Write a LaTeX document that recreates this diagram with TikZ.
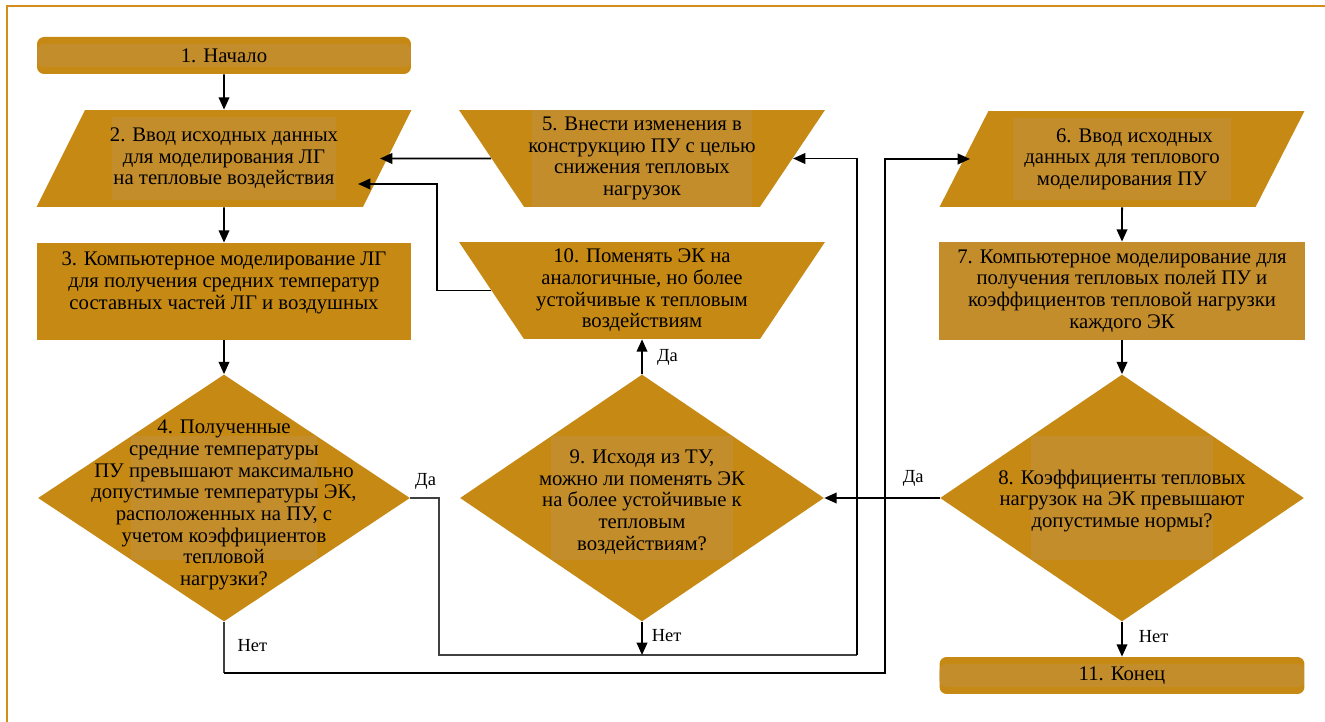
\documentclass[tikz,border=0pt]{standalone}
\usepackage{fontspec}
\setmainfont{Liberation Serif}
\usetikzlibrary{shapes.geometric,arrows.meta,calc,positioning}

\definecolor{gold}{RGB}{198,137,20}
\definecolor{goldhl}{RGB}{195,141,44}
\definecolor{framecol}{RGB}{212,142,26}

\tikzset{
  >={Triangle[length=7pt,width=6pt]},
  blk/.style={fill=gold, inner sep=1pt, align=center, font=\fontsize{11.8}{12.3}\selectfont},
  hl/.style 2 args={path picture={\fill[goldhl]
      ([xshift=#1,yshift=-#2]path picture bounding box.north west) rectangle
      ([xshift=-#1,yshift=#2]path picture bounding box.south east);}},
  term/.style={blk, rectangle, rounded corners=4pt, minimum width=7.48cm, minimum height=0.74cm},
  proc/.style={blk, rectangle, minimum width=7.48cm, minimum height=1.94cm},
  io/.style={blk, trapezium, trapezium left angle=53, trapezium right angle=127,
      trapezium stretches body, minimum width=7.5cm, minimum height=1.94cm},
  act/.style={blk, trapezium, trapezium angle=53, shape border rotate=180,
      trapezium stretches body, minimum width=7.32cm, minimum height=1.94cm},
  dec/.style={fill=gold, diamond, inner sep=0pt, minimum height=4.94cm,
      path picture={\fill[goldhl]
        ($(path picture bounding box.center)!0.5!(path picture bounding box.north west)$) rectangle
        ($(path picture bounding box.center)!0.5!(path picture bounding box.south east)$);}},
  txt/.style={align=center, inner sep=0pt, font=\fontsize{11.8}{12.3}\selectfont},
  yn/.style={inner sep=1pt, text=black, font=\fontsize{10.5}{12}\selectfont},
  ln/.style={line width=1.1pt},
  lnt/.style={line width=0.6pt, black!75},
}

\begin{document}
\begin{tikzpicture}[x=0.02cm, y=-0.02cm]
    \useasboundingbox (0,0) rectangle (1325,722);

    % Frame
    \draw[framecol, line width=1.2pt] (7,722) -- (7,6) -- (1325,6);

    % Left column
    \node[term, hl={0pt}{0.14cm}] (n1) at (224,55.5) {1. Начало};
    \node[io, hl={1.5cm}{0.14cm}] (n2) at (224,158.5)
        {2. Ввод исходных данных\\для моделирования ЛГ\\на тепловые воздействия};
    \node[proc] (n3) at (224,291.5)
        {3. Компьютерное моделирование ЛГ\\для получения средних температур\\составных частей ЛГ и воздушных\\\mbox{}};
    \node[dec, minimum width=7.44cm] (d4) at (224,498) {};
    \node[txt] (t4) at ($(d4)+(0,7)$)
        {4. Полученные\\средние температуры\\ПУ превышают максимально\\допустимые температуры ЭК,\\расположенных на ПУ, с\\учетом коэффициентов\\тепловой\\нагрузки?};

    % Middle column
    \node[act, hl={1.46cm}{0pt}] (n5) at (642,158.5)
        {5. Внести изменения в\\конструкцию ПУ с целью\\снижения тепловых\\нагрузок};
    \node[act] (n10) at (642,290.5)
        {10. Поменять ЭК на\\аналогичные, но более\\устойчивые к тепловым\\воздействиям};
    \node[dec, minimum width=7.28cm] (d9) at (642,498) {};
    \node[txt] (t9) at ($(d9)+(0,4)$)
        {9. Исходя из ТУ,\\можно ли поменять ЭК\\на более устойчивые к\\тепловым\\воздействиям?};

    % Right column
    \node[io, minimum width=7.3cm, minimum height=1.92cm, hl={1.46cm}{0.14cm}] (n6) at (1122,159)
        {\hspace{1.2em}6. Ввод исходных\\данных для теплового\\моделирования ПУ};
    \node[proc, fill=goldhl, minimum width=7.32cm, minimum height=1.96cm] (n7) at (1122,291)
        {7. Компьютерное моделирование для\\получения тепловых полей ПУ и\\коэффициентов тепловой нагрузки\\каждого ЭК};
    \node[dec, minimum width=7.28cm] (d8) at (1122,498) {};
    \node[txt] (t8) at ($(d8)+(0,3)$)
        {8. Коэффициенты тепловых\\нагрузок на ЭК превышают\\допустимые нормы?};
    \node[term, minimum width=7.3cm, hl={0pt}{0.14cm}] (n11) at (1122,675.5) {11. Конец};

    % Junctions and entry points on slanted sides
    \coordinate (j1) at (439,655);
    \coordinate (j2) at (857,655);
    \coordinate (j3) at (224,673);
    \coordinate (j4) at (885,673);
    \coordinate (e2) at (380,158.5);
    \coordinate (e2b) at (358,184);
    \coordinate (e5) at (793,158.5);
    \coordinate (e6) at (970,159);

    % Straight flow
    \draw[ln,->] (n1) -- (n2);
    \draw[ln,->] (n2) -- (n3);
    \draw[ln,->] (n3) -- (d4);
    \draw[ln,->] (n6) -- (n7);
    \draw[ln,->] (n7) -- (d8);
    \draw[ln,->] (d8) -- (n11) node[yn, pos=0.43, right=8pt] {Нет};

    % Back to input data
    \draw[ln,->] (n5.180) -- (e2);
    \draw[ln,->] (n10.180) -- ++(-54,0) |- (e2b);

    % Decision 4
    \draw[lnt] (d4.east) node[yn, above right=3.5pt and 1.5pt] {Да} -| (j1) -- (j2);
    \draw[ln,->] (j2) |- (e5);
    \draw[lnt] (d4.south) -- (j3) node[yn, pos=0.47, right=6.4pt] {Нет};
    \draw[ln,->] (j3) -- (j4) |- (e6);

    % Decision 9 and 8
    \draw[ln,->] (d9.north) -- (n10.south) node[yn, pos=0.49, right=7pt] {Да};
    \draw[ln,->] (d9.south) -- (d9.south |- j1) node[yn, pos=0.42, right=4pt] {Нет};
    \draw[ln,->] (d8.west) -- (d9.east) node[yn, pos=0.23, above=5pt] {Да};
\end{tikzpicture}
\end{document}
